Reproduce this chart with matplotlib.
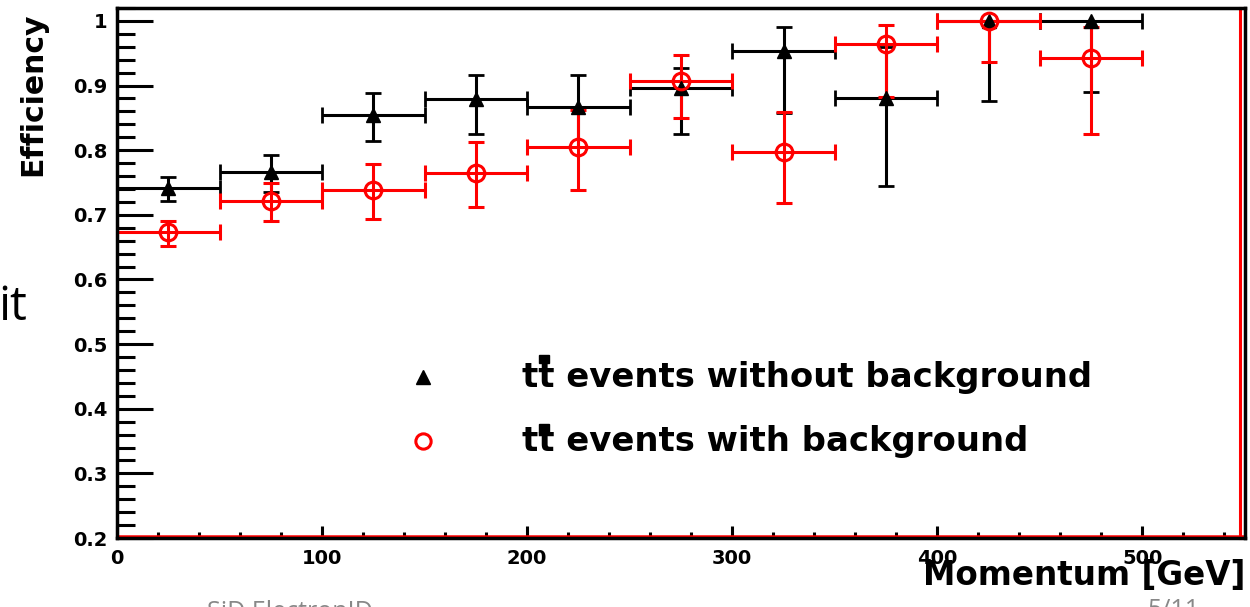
import matplotlib
matplotlib.use('Agg')
import matplotlib.pyplot as plt
from matplotlib.patches import Rectangle
from matplotlib.ticker import MultipleLocator

# Momentum bins [GeV]
bin_centres = [25, 75, 125, 175, 225, 275, 325, 375, 425, 475]
bin_half = [25] * 10

# ttbar events without background
eff_nobkg = [0.741, 0.766, 0.855, 0.879, 0.867, 0.897, 0.953, 0.880, 1.000, 1.000]
err_up_nobkg = [0.018, 0.026, 0.033, 0.037, 0.049, 0.030, 0.037, 0.080, 0.0, 0.0]
err_dn_nobkg = [0.019, 0.031, 0.040, 0.054, 0.062, 0.072, 0.096, 0.136, 0.124, 0.110]

# ttbar events with background
eff_bkg = [0.673, 0.721, 0.738, 0.764, 0.805, 0.907, 0.797, 0.964, 1.000, 0.943]
err_up_bkg = [0.017, 0.029, 0.040, 0.048, 0.057, 0.040, 0.062, 0.030, 0.0, 0.047]
err_dn_bkg = [0.022, 0.030, 0.045, 0.052, 0.067, 0.057, 0.078, 0.082, 0.064, 0.118]

W, H = 1250, 607
fig = plt.figure(figsize=(W / 100, H / 100), dpi=100)
ax = fig.add_axes([117 / W, 1 - 538 / H, 1128 / W, 530 / H])

font = 'DejaVu Sans'

eb_kw = dict(linestyle='none', elinewidth=2.2, capsize=6, capthick=2.0)
ax.errorbar(bin_centres, eff_nobkg, xerr=bin_half,
            yerr=[err_dn_nobkg, err_up_nobkg], fmt='^', color='black',
            markersize=9.5, **eb_kw)
ax.errorbar(bin_centres, eff_bkg, xerr=bin_half,
            yerr=[err_dn_bkg, err_up_bkg], fmt='o', color='red',
            markersize=12, markerfacecolor='none', markeredgewidth=2.2, **eb_kw)

ax.set_xlim(0, 550)
ax.set_ylim(0.2, 1.02)

ax.xaxis.set_major_locator(MultipleLocator(100))
ax.xaxis.set_minor_locator(MultipleLocator(20))
ax.yaxis.set_major_locator(MultipleLocator(0.1))
ax.yaxis.set_minor_locator(MultipleLocator(0.02))
ax.set_xticks([0, 100, 200, 300, 400, 500])
ax.set_yticks([0.2, 0.3, 0.4, 0.5, 0.6, 0.7, 0.8, 0.9, 1.0])
ax.set_yticklabels(['0.2', '0.3', '0.4', '0.5', '0.6', '0.7', '0.8', '0.9', '1'])

ax.tick_params(axis='y', which='major', direction='in', length=26, width=2.2, pad=7)
ax.tick_params(axis='y', which='minor', direction='in', length=13, width=2.2)
ax.tick_params(axis='x', which='major', direction='in', length=9, width=2.2, pad=8)
ax.tick_params(axis='x', which='minor', direction='in', length=4.5, width=2.2)
for lab in ax.get_xticklabels() + ax.get_yticklabels():
    lab.set_fontfamily(font)
    lab.set_fontweight('bold')
    lab.set_fontsize(14)

for s in ax.spines.values():
    s.set_linewidth(2.5)
    s.set_color('black')

# red frame lines just inside the bottom and right edges
ax.plot([0, 1], [0.004, 0.004], transform=ax.transAxes, color='red', lw=1.8, clip_on=False)
ax.plot([0.9955, 0.9955], [0, 1], transform=ax.transAxes, color='red', lw=2.2, clip_on=False)

ax.set_ylabel('Efficiency', fontfamily=font, fontweight='bold', fontsize=21.5, va='center')
ax.yaxis.set_label_coords((33 - 117) / 1128, (538 - 94) / 530)
ax.set_xlabel('Momentum [GeV]', fontfamily=font, fontweight='bold', fontsize=23.5,
              ha='right', va='center')
ax.xaxis.set_label_coords(1.0, -(575 - 538) / 530)

# legend
def px(x, y):
    return (x - 117) / 1128, (538 - y) / 530

ax.plot(*px(423, 377), marker='^', color='black', markersize=9.5,
        transform=ax.transAxes, clip_on=False)
ax.plot(*px(423, 441), marker='o', color='red', markersize=11, markerfacecolor='none',
        markeredgewidth=2.2, transform=ax.transAxes, clip_on=False)
ax.text(*px(522, 377), 'tt events without background', transform=ax.transAxes,
        ha='left', va='center', fontfamily=font, fontweight='bold', fontsize=24.4)
ax.text(*px(522, 441), 'tt events with background', transform=ax.transAxes,
        ha='left', va='center', fontfamily=font, fontweight='bold', fontsize=24.4)
for ybar in (355, 424):
    fig.add_artist(Rectangle((539 / W, 1 - (ybar + 8) / H), 10 / W, 8 / H,
                             transform=fig.transFigure, color='black'))

# slide text around the plot
fig.text(27 / W, 1 - 307 / H, 'it', ha='right', va='center', fontsize=34,
         fontfamily='Open Sans', color='black')
fig.text(207 / W, 1 - 600 / H, 'SiD ElectronID', ha='left', va='top', fontsize=18,
         fontfamily='Open Sans', color='#888888')
fig.text(1147 / W, 1 - 598 / H, '5/11', ha='left', va='top', fontsize=18,
         fontfamily='Open Sans', color='#888888')

fig.savefig('out.png', dpi=100)
